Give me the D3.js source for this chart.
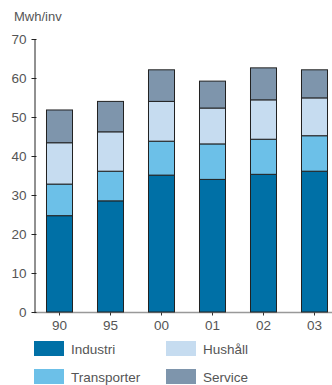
<!DOCTYPE html>
<html>
<head>
<meta charset="utf-8">
<script src="https://cdn.jsdelivr.net/npm/d3@7"></script>
<style>
  body { margin: 0; background: #fff; }
  text { font-family: "Liberation Sans", Arial, sans-serif; fill: #555; }
</style>
</head>
<body>
<div id="chart"></div>
<script>
// data (Mwh per inhabitant)
var years = ["90", "95", "00", "01", "02", "03"];
var industri    = [24.7, 28.5, 35.1, 34.0, 35.3, 36.1];
var transporter = [8.1, 7.6, 8.7, 9.1, 9.0, 9.1];
var hushall     = [10.6, 10.1, 10.2, 9.2, 10.1, 9.7];
var service     = [8.4, 7.8, 8.1, 6.9, 8.2, 7.2];
var yTicks = [0, 10, 20, 30, 40, 50, 60, 70];

var keys = ["Industri", "Transporter", "Hushåll", "Service"];
var colors = { "Industri": "#0070a6", "Transporter": "#6cc0e8", "Hushåll": "#c6dcf0", "Service": "#7e95ac" };

var width = 332, height = 385;
var fontSize = "13.5px";

var rows = years.map(function(y, i) {
  return { year: y, "Industri": industri[i], "Transporter": transporter[i], "Hushåll": hushall[i], "Service": service[i] };
});

var svg = d3.select("#chart").append("svg")
    .attr("width", width)
    .attr("height", height);

var x = d3.scaleBand()
    .domain(years)
    .range([34, 340])
    .paddingInner(0.49)
    .paddingOuter(0.245);

var y = d3.scaleLinear()
    .domain([0, 70])
    .range([312, 39]);

var stack = d3.stack().keys(keys)(rows);

// x axis baseline (grey, runs to the edge)
svg.append("line")
    .attr("x1", 34).attr("x2", width)
    .attr("y1", y(0) + 0.5).attr("y2", y(0) + 0.5)
    .attr("stroke", "#999").attr("stroke-width", 1.5);

svg.append("g")
  .selectAll("g")
  .data(stack)
  .enter().append("g")
    .attr("fill", function(d) { return colors[d.key]; })
  .selectAll("rect")
  .data(function(d) { return d; })
  .enter().append("rect")
    .attr("x", function(d) { return x(d.data.year); })
    .attr("y", function(d) { return y(d[1]); })
    .attr("width", x.bandwidth())
    .attr("height", function(d) { return y(d[0]) - y(d[1]); })
    .attr("stroke", "#222")
    .attr("stroke-width", 1);

// x axis ticks + labels
var xAxis = svg.append("g")
    .attr("transform", "translate(0," + (y(0) + 0.5) + ")")
    .call(d3.axisBottom(x).tickSize(3).tickPadding(5));
xAxis.select(".domain").remove();
xAxis.selectAll("line").attr("stroke", "#333");
xAxis.selectAll("text")
    .style("font-size", fontSize)
    .style("font-family", "'Liberation Sans', Arial, sans-serif")
    .attr("fill", "#555");

// y axis
var yAxis = svg.append("g")
    .attr("transform", "translate(34.5,0)")
    .call(d3.axisLeft(y).tickValues(yTicks).tickSize(3).tickPadding(5).tickSizeOuter(0));
yAxis.select(".domain").attr("stroke", "#222");
yAxis.selectAll(".tick line").attr("stroke", "#222").attr("x2", 2).attr("x1", -3);
yAxis.selectAll("text")
    .style("font-size", fontSize)
    .style("font-family", "'Liberation Sans', Arial, sans-serif")
    .attr("fill", "#555");

svg.append("text")
    .attr("x", 14)
    .attr("y", 21)
    .style("font-size", "13px")
    .text("Mwh/inv");

// legend
var legendPos = [[34, 341], [34, 369], [166, 341], [166, 369]];
var legendOrder = ["Industri", "Transporter", "Hushåll", "Service"];
var legend = svg.append("g")
  .selectAll("g")
  .data(legendOrder)
  .enter().append("g")
    .attr("transform", function(d, i) { return "translate(" + legendPos[i][0] + "," + legendPos[i][1] + ")"; });

legend.append("rect")
    .attr("width", 30)
    .attr("height", 15)
    .attr("fill", function(d) { return colors[d]; });

legend.append("text")
    .attr("x", 37)
    .attr("y", 12.5)
    .style("font-size", fontSize)
    .text(function(d) { return d; });
</script>
</body>
</html>
